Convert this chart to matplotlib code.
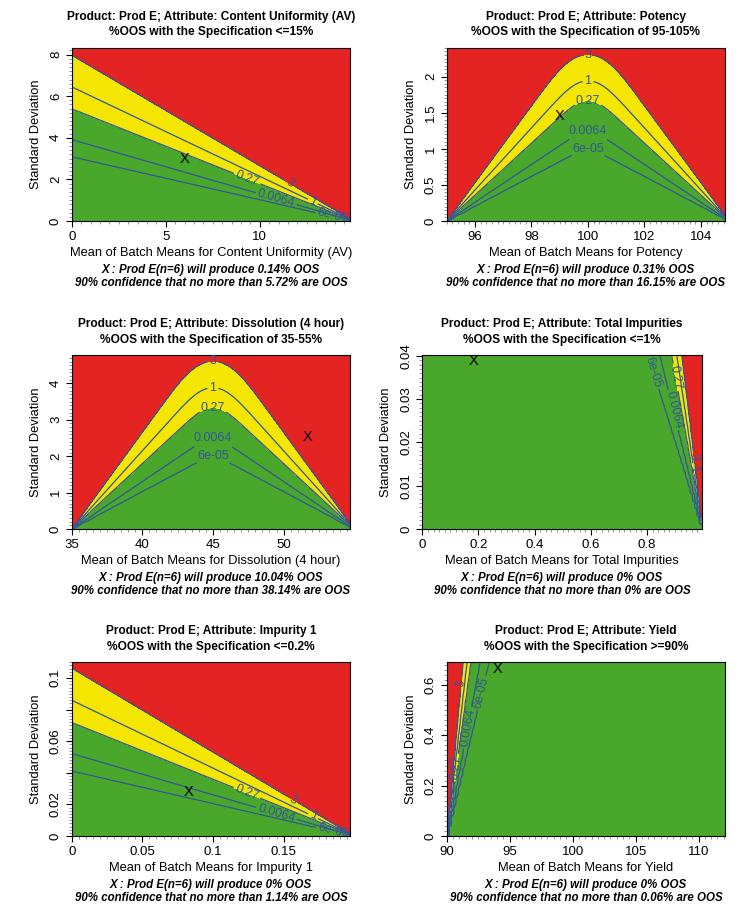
import math
import numpy as np
import matplotlib
matplotlib.use("Agg")
import matplotlib.pyplot as plt
from matplotlib.ticker import FixedLocator, FixedFormatter, MultipleLocator

plt.rcParams['font.family'] = ['Liberation Sans', 'DejaVu Sans']

# --- chart data -------------------------------------------------------------
attributes = ["Content Uniformity (AV)", "Potency", "Dissolution (4 hour)",
              "Total Impurities", "Impurity 1", "Yield"]
spec_texts = ["<=15%", "of 95-105%", "of 35-55%", "<=1%", "<=0.2%", ">=90%"]
lower_limits = [None, 95, 35, None, None, 90]
upper_limits = [15, 105, 55, 1, 0.2, None]

x_ranges = [(0, 14.8), (95, 104.85), (35, 54.7), (0, 0.995), (0, 0.197), (90, 112.1)]
y_ranges = [(0, 8.33), (0, 2.40), (0, 4.78), (0, 0.0402), (0, 0.110), (0, 0.69)]

x_ticks = [[0, 5, 10], [96, 98, 100, 102, 104], [35, 40, 45, 50],
           [0, 0.2, 0.4, 0.6, 0.8], [0, 0.05, 0.1, 0.15], [90, 95, 100, 105, 110]]
x_ticklabels = [["0", "5", "10"], ["96", "98", "100", "102", "104"],
                ["35", "40", "45", "50"], ["0", "0.2", "0.4", "0.6", "0.8"],
                ["0", "0.05", "0.1", "0.15"], ["90", "95", "100", "105", "110"]]
y_ticks = [[0, 2, 4, 6, 8], [0, 0.5, 1, 1.5, 2], [0, 1, 2, 3, 4],
           [0, 0.01, 0.02, 0.03, 0.04], [0, 0.02, 0.04, 0.06, 0.08, 0.1],
           [0, 0.2, 0.4, 0.6]]
y_ticklabels = [["0", "2", "4", "6", "8"], ["0", "0.5", "1", "1.5", "2"],
                ["0", "1", "2", "3", "4"], ["0", "0.01", "0.02", "0.03", "0.04"],
                ["0", "0.02", "", "0.06", "", "0.1"], ["0", "0.2", "0.4", "0.6"]]

# product position (mean, sd) marked with X
product_mean = [6.0, 99.0, 51.7, 0.182, 0.083, 94.0]
product_sd = [2.96, 1.46, 2.54, 0.0387, 0.0277, 0.665]
product_oos = ["0.14", "0.31", "10.04", "0", "0", "0"]
conf_oos = ["5.72", "16.15", "38.14", "0", "1.14", "0.06"]

# contour levels of %OOS
levels = [6e-05, 0.0064, 0.27, 1, 3]
level_names = ["6e-05", "0.0064", "0.27", "1", "3"]

# hand placed label spots for each level (same order as levels)
label_spots = [
    [(13.9, 0.29), (10.85, 1.0), (9.3, 1.97), (12.8, 0.9), (11.6, 1.76)],
    [(100, 0.9), (100, 1.1), (100, 1.63), (100, 1.93), (100, 2.30)],
    [(45, 1.85), (45, 2.2), (45, 3.25), (45, 3.85), (45, 4.6)],
    [(0.81, 0.036), (0.895, 0.0275), (0.90, 0.035), (0.972, 0.014), (0.967, 0.0167)],
    [(0.185, 0.0042), (0.145, 0.0144), (0.124, 0.0275), (0.171, 0.0127), (0.1566, 0.0228)],
    [(93.05, 0.567), (91.99, 0.428), (90.85, 0.27), (90.4, 0.123), (91.3, 0.607)],
]

# axes boxes in pixels: left, right, top, bottom
boxes = [(71.7, 350, 47.7, 221), (446.7, 725, 47.7, 221),
         (71.7, 350, 355, 529), (422.3, 701.7, 355, 529),
         (71.7, 350, 662.3, 836), (446.7, 725, 662.3, 836)]

W, H = 750, 908
red = "#e32422"
yellow = "#f4e600"
green = "#49a82b"
line_col = "#34559a"

phi = np.vectorize(lambda z: 0.5 * math.erfc(-z / math.sqrt(2)))


def pct_oos(m, s, lsl, usl):
    p = np.zeros_like(m)
    if lsl is not None:
        p = p + phi((lsl - m) / s)
    if usl is not None:
        p = p + 1 - phi((usl - m) / s)
    return 100 * p


fig = plt.figure(figsize=(W / 100, H / 100), dpi=100)

for i in range(6):
    l, r, t, b = boxes[i]
    ax = fig.add_axes([l / W, 1 - b / H, (r - l) / W, (b - t) / H])
    x0, x1 = x_ranges[i]
    y0, y1 = y_ranges[i]
    xs = np.linspace(x0, x1, 120)
    ys = np.linspace(y1 * 0.002, y1, 120)
    M, S = np.meshgrid(xs, ys)
    Z = pct_oos(M, S, lower_limits[i], upper_limits[i])

    ax.contourf(M, S, Z, levels=[0, 0.27, 3, 101], colors=[green, yellow, red])
    for lev, name, spot in zip(levels, level_names, label_spots[i]):
        cs = ax.contour(M, S, Z, levels=[lev], colors=line_col, linewidths=0.9)
        ax.clabel(cs, fmt={lev: name}, manual=[spot], inline=True,
                  inline_spacing=2, fontsize=9, colors=line_col)

    ax.text(product_mean[i], product_sd[i], "X", ha="center", va="center", fontsize=10.5)

    ax.set_xlim(x0, x1)
    ax.set_ylim(y0, y1)
    ax.xaxis.set_major_locator(FixedLocator(x_ticks[i]))
    ax.xaxis.set_major_formatter(FixedFormatter(x_ticklabels[i]))
    ax.yaxis.set_major_locator(FixedLocator(y_ticks[i]))
    ax.yaxis.set_major_formatter(FixedFormatter(y_ticklabels[i]))
    ax.xaxis.set_minor_locator(MultipleLocator((x_ticks[i][1] - x_ticks[i][0]) / 10))
    ax.yaxis.set_minor_locator(MultipleLocator((y_ticks[i][1] - y_ticks[i][0]) / 10))
    ax.tick_params(which="major", length=4, width=0.8, labelsize=9.5, pad=3)
    ax.tick_params(which="minor", length=2.2, width=0.6, color="#888888")
    for lab in ax.get_yticklabels():
        lab.set_rotation(90)
        lab.set_va("center")
    for sp in ax.spines.values():
        sp.set_linewidth(0.8)

    ax.set_xlabel("Mean of Batch Means for " + attributes[i], fontsize=9.3, labelpad=3)
    ax.set_ylabel("Standard Deviation", fontsize=9.3, labelpad=6)

    cx = (l + r) / 2 / W
    fig.text(cx, 1 - (t - 31) / H, "Product: Prod E; Attribute: " + attributes[i],
             ha="center", va="center", fontsize=8.6, fontweight="bold")
    fig.text(cx, 1 - (t - 15.5) / H, "%OOS with the Specification " + spec_texts[i],
             ha="center", va="center", fontsize=8.6, fontweight="bold")
    fig.text(cx, 1 - (b + 49) / H,
             "X : Prod E(n=6) will produce " + product_oos[i] + "% OOS",
             ha="center", va="center", fontsize=8.3, fontweight="bold", style="italic")
    fig.text(cx, 1 - (b + 62) / H,
             "90% confidence that no more than " + conf_oos[i] + "% are OOS",
             ha="center", va="center", fontsize=8.3, fontweight="bold", style="italic")

fig.savefig("out.png", dpi=100)
